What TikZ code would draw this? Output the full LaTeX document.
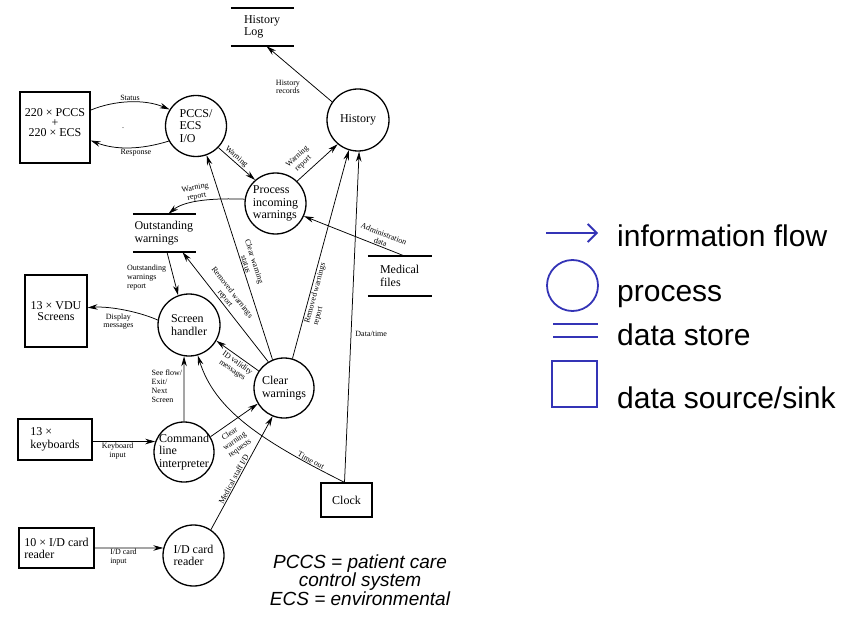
\documentclass[tikz,border=0pt]{standalone}
\usepackage{fontspec}
\setmainfont{Liberation Serif}
\newfontfamily\legfont{Liberation Sans}
\newfontfamily\handfont{Liberation Sans}
\usetikzlibrary{arrows.meta}
\definecolor{legblue}{RGB}{52,52,182}
\newcommand\dfdbig{\fontsize{12}{12.5}\selectfont}
\newcommand\dfdsmall{\fontsize{8}{8.8}\selectfont}

\begin{document}
\begin{tikzpicture}[x=1pt,y=-1pt,
  proc/.style={circle,draw,line width=1.3pt,minimum size=61pt,inner sep=0pt},
  ptxt/.style={font=\dfdbig,align=left,inner sep=0pt},
  ext/.style={rectangle,draw,line width=1.3pt,inner sep=0pt,font=\dfdbig},
  store/.style={inner ysep=0pt,font=\dfdbig,align=left},
  storeline/.style={line width=1.6pt},
  flow/.style={line width=0.75pt,-{Stealth[length=10pt,width=5.5pt]}},
  lbl/.style={font=\dfdsmall,inner sep=1pt,align=center},
  legline/.style={draw=legblue,line width=1.8pt},
  legtext/.style={font=\legfont\fontsize{30}{30}\selectfont,anchor=base west,inner sep=0pt},
  hand/.style={font=\handfont\itshape\fontsize{19}{15.5}\selectfont,align=center,inner sep=0pt}
]
\useasboundingbox (0,0) rectangle (858,620);

% data stores
\node[store,text width=37pt,inner xsep=13pt,minimum height=38pt] (hlog) at (262.5,27) {History\\Log};
\node[store,text width=60pt,inner xsep=1.5pt,minimum height=38pt] (ow) at (164.5,233) {Outstanding\\warnings};
\node[store,text width=40pt,inner xsep=12pt,minimum height=40pt] (mf) at (400,276) {Medical\\files};
\foreach \st in {hlog,ow,mf}
  \draw[storeline] (\st.north west) -- (\st.north east) (\st.south west) -- (\st.south east);

% sources and sinks
\node[ext,minimum width=70pt,minimum height=71pt,
      label={[align=center,inner sep=0pt,yshift=4.5pt,font=\fontsize{12}{10}\selectfont]center:220 × PCCS\\+\\220 × ECS}] (pccsbox) at (55,127.5) {};
\node[ext,minimum width=62pt,minimum height=72pt,align=center,font=\fontsize{12}{11}\selectfont] (vdu) at (56,311) {13 × VDU\\Screens};
\node[ext,minimum width=74pt,minimum height=41pt,align=left,font=\fontsize{12}{13}\selectfont] (kb) at (55,439.5) {13 ×\\keyboards};
\node[ext,minimum width=75pt,minimum height=40pt,align=left,font=\fontsize{12}{12}\selectfont] (idbox) at (56.5,548) {10 × I/D card\\reader};
\node[ext,minimum width=51pt,minimum height=34pt] (clock) at (346.5,500) {Clock};

% processes
\node[proc,label={[ptxt]center:PCCS/\\ECS\\I/O}] (pccsio) at (196,126) {};
\node[proc,minimum size=62pt,label={[ptxt]center:History}] (hist) at (358,120) {};
\node[proc,label={[ptxt]center:Process\\incoming\\warnings}] (pi) at (275.5,203.5) {};
\node[proc,minimum size=62pt,label={[ptxt]center:Screen\\handler}] (sh) at (189,325) {};
\node[proc,minimum size=60pt,label={[ptxt]center:Clear\\warnings}] (cw) at (284,388) {};
\node[proc,minimum size=60pt,label={[ptxt]center:Command\\line\\interpreter}] (cli) at (184,452) {};
\node[proc,label={[ptxt]center:I/D card\\reader}] (idcr) at (193.5,555.5) {};

\node[lbl] (speck) at (123,128) {.};

% information flows
\draw[flow] (pccsbox.26) .. controls (115,100) and (145,99) .. node[lbl,above]{Status} (pccsio.148);
\draw[flow] (pccsio.209) .. controls (140,150) and (115,150) .. node[lbl,below,pos=0.4]{Response} (pccsbox.-20);
\draw[flow] (pccsio.-44) -- node[lbl,sloped,above,pos=0.4]{Warning} (pi.131);
\draw[flow] (pi.46) -- node[lbl,sloped,above=4pt,pos=0.3]{Warning\\report} (hist.230);
\draw[flow] (hist.145) -- node[lbl,left=13pt,pos=0.27]{History\\records} ([xshift=4pt]hlog.south);
\draw[flow] (pi.172) .. controls (215,198) and (185,200) .. node[lbl,sloped,above,pos=0.55]{Warning\\report} ([xshift=4pt]ow.north);
\draw[flow] ([xshift=4pt]mf.north) -- node[lbl,sloped,above,pos=0.25]{Administration\\data} (pi.-24);
\draw[flow] ([xshift=2.5pt]ow.south) -- node[lbl,left=6pt,pos=0.59,align=left]{Outstanding\\warnings\\report} (sh.110);
\draw[flow] (sh.171) .. controls (140,312) and (110,306) .. node[lbl,below=3pt,pos=0.58]{Display\\messages} (vdu.6);
\draw[flow] (cli.north) -- node[lbl,left=0.5pt,pos=0.54,align=left]{See flow/\\Exit/\\Next\\Screen} (sh.-99);
\draw[flow] (kb.-3.4) -- node[lbl,below,pos=0.4]{Keyboard\\input} (cli.160);
\draw[flow] (idbox.east) -- node[lbl,below,pos=0.42,align=left]{I/D card\\input} (idcr.166);
\draw[flow] (cli.30) -- node[lbl,sloped,below=4pt,pos=0.3]{Clear\\warning\\requests} (cw.211);
\draw[flow] (idcr.56) -- node[lbl,sloped,above,pos=0.43]{Medical staff I/D} (cw.248);
\draw[flow] ([xshift=-2pt]clock.north) .. controls (260,440) and (215,410) .. node[lbl,sloped,above,pos=0.15]{Time out} (sh.-74);
\draw[flow] ([xshift=-2pt]clock.north) -- node[lbl,right=3pt,pos=0.45]{Data/time} (hist.-88);
\draw[flow] (cw.112) -- node[lbl,sloped,above,pos=0.46]{Clear warning\\status} (pccsio.-70);
\draw[flow] (cw.121) -- node[lbl,sloped,above,pos=0.55]{Removed warnings\\report} ([xshift=18pt]ow.south);
\draw[flow] (cw.74) -- node[lbl,sloped,below,pos=0.32,align=left]{Removed warnings\\report} (hist.253);
\draw[flow] (cw.146) -- node[lbl,sloped,below=1pt,pos=0.42]{ID validity\\messages} (sh.-30);

% handwritten note
\node[hand] (note) at (360,580) {PCCS = patient care\\control system\\ECS = environmental};

% legend
\draw[legline,-{Straight Barb[length=9pt,width=18pt]}] (546,233) -- (598,233);
\draw[legline] (572.5,285.5) circle[radius=25.5pt];
\draw[legline] (553,324) -- (598,324) (553,337) -- (598,337);
\draw[legline] (552,361) rectangle (597,407);
\node[legtext] (tflow) at (617,246) {information flow};
\node[legtext] (tproc) at (617,301) {process};
\node[legtext] (tstore) at (617,345) {data store};
\node[legtext] (tsink) at (617,408) {data source/sink};
\end{tikzpicture}
\end{document}
